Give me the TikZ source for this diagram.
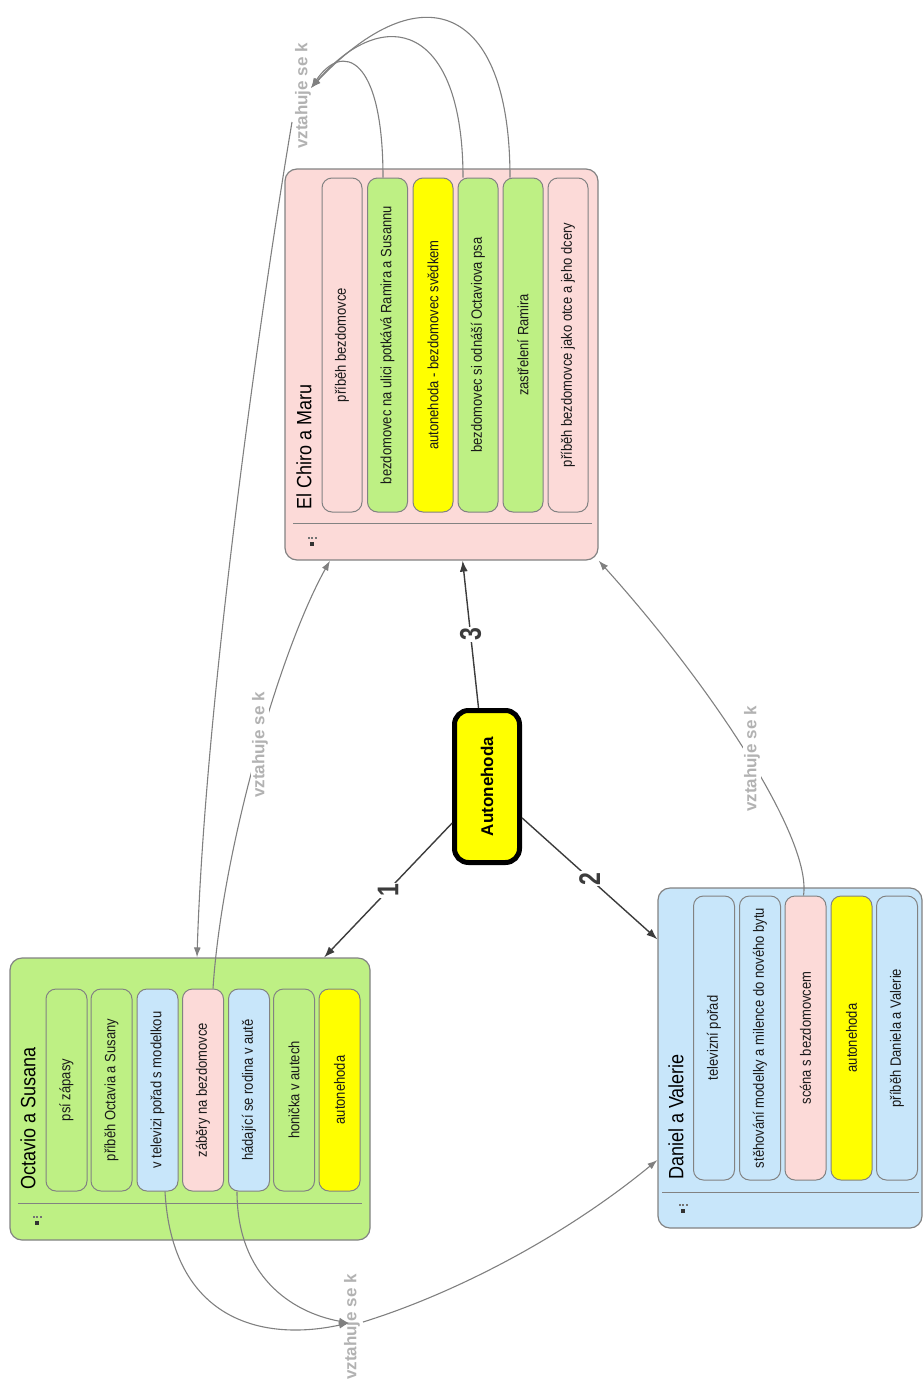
\documentclass[tikz,border=0pt]{standalone}
\usepackage{fontspec}
\usepackage{graphicx}
\setmainfont{Liberation Sans}
\usetikzlibrary{arrows.meta,calc}
\definecolor{pinkc}{RGB}{252,218,216}
\definecolor{greenc}{RGB}{190,240,132}
\definecolor{bluec}{RGB}{200,230,250}
\definecolor{yellowc}{RGB}{255,255,0}
\definecolor{edgec}{RGB}{130,130,130}
\definecolor{relc}{RGB}{128,128,128}
\definecolor{rellab}{RGB}{178,178,178}
\definecolor{mainc}{RGB}{60,60,60}
\newcommand\tallt[1]{\scalebox{1}[1.15]{#1}}
\newcommand\tallnum[1]{\scalebox{1}[1.3]{#1}}
\begin{document}
\begin{tikzpicture}[x=1pt,y=1pt,
  group/.style={draw=edgec, line width=1.2pt, rounded corners=12pt, inner sep=0pt},
  item/.style={draw=edgec, line width=1pt, rounded corners=10pt, rotate=90, inner sep=0pt,
    font=\fontsize{13}{15}\selectfont, text=black!90},
  gtitle/.style={rotate=90, anchor=west, inner sep=0pt, font=\fontsize{18}{20}\selectfont},
  sepline/.style={draw=edgec, line width=0.8pt},
  mainarrow/.style={draw=mainc, line width=1.4pt, -{Latex[length=11pt,width=8pt]}},
  numlab/.style={rotate=90, font=\bfseries\fontsize{23}{25}\selectfont, text=mainc, fill=white, inner sep=1pt},
  rel/.style={draw=relc, line width=1.1pt, -{Latex[length=10pt,width=7pt]}},
  rellabel/.style={rotate=90, font=\bfseries\fontsize{17}{19}\selectfont, text=rellab, inner sep=1pt},
  gicon/.pic={
    \fill[black!55] (-4.5,2) rectangle ++(2,2);
    \fill[black!55] (-1,2) rectangle ++(2,2);
    \fill[black!55] (2.5,2) rectangle ++(2,2);
    \fill[black!80] (-2,-1) rectangle ++(3.5,-3.5);
  }
]
\useasboundingbox (0,0) rectangle (923,-1384);

% ---------- El Chiro a Maru ----------
\node[group, fill=pinkc, minimum width=313pt, minimum height=391pt] (chiro) at (441.5,-364.5) {};
\draw[sepline] (293,-523) -- (592,-523);
\pic at (312,-541) {gicon};
\node[gtitle] (chirot) at (304,-510) {\tallt{El Chiro a Maru}};
\node[item, fill=pinkc, minimum width=334pt, minimum height=40pt] (p1) at (342,-345) {\tallt{příběh bezdomovce}};
\node[item, fill=greenc, minimum width=334pt, minimum height=40pt] (p2) at (387.5,-345) {\tallt{bezdomovec na ulici potkává Ramira a Susannu}};
\node[item, fill=yellowc, minimum width=334pt, minimum height=40pt] (p3) at (433,-345) {\tallt{autonehoda - bezdomovec svědkem}};
\node[item, fill=greenc, minimum width=334pt, minimum height=40pt] (p4) at (478,-345) {\tallt{bezdomovec si odnáší Octaviova psa}};
\node[item, fill=greenc, minimum width=334pt, minimum height=40pt] (p5) at (523,-345) {\tallt{zastřelení Ramira}};
\node[item, fill=pinkc, minimum width=334pt, minimum height=40pt] (p6) at (568,-345) {\tallt{příběh bezdomovce jako otce a jeho dcery}};

% ---------- Octavio a Susana ----------
\node[group, fill=greenc, minimum width=360pt, minimum height=282pt] (oct) at (190,-1099) {};
\draw[sepline] (18,-1203) -- (362,-1203);
\pic at (37,-1220) {gicon};
\node[gtitle] (octt) at (28,-1190) {\tallt{Octavio a Susana}};
\node[item, fill=greenc, minimum width=202pt, minimum height=41pt] (o1) at (66.5,-1090) {\tallt{psí zápasy}};
\node[item, fill=greenc, minimum width=202pt, minimum height=41pt] (o2) at (111.5,-1090) {\tallt{příběh Octavia a Susany}};
\node[item, fill=bluec, minimum width=202pt, minimum height=41pt] (o3) at (157.5,-1090) {\tallt{v televizi pořad s modelkou}};
\node[item, fill=pinkc, minimum width=202pt, minimum height=41pt] (o4) at (203,-1090) {\tallt{záběry na bezdomovce}};
\node[item, fill=bluec, minimum width=202pt, minimum height=41pt] (o5) at (249,-1090) {\tallt{hádající se rodina v autě}};
\node[item, fill=greenc, minimum width=202pt, minimum height=41pt] (o6) at (294,-1090) {\tallt{honička v autech}};
\node[item, fill=yellowc, minimum width=202pt, minimum height=41pt] (o7) at (339.5,-1090) {\tallt{autonehoda}};

% ---------- Daniel a Valerie ----------
\node[group, fill=bluec, minimum width=264pt, minimum height=340pt] (dan) at (790,-1058) {};
\draw[sepline] (662,-1192) -- (919,-1192);
\pic at (683,-1208) {gicon};
\node[gtitle] (dant) at (676,-1180) {\tallt{Daniel a Valerie}};
\node[item, fill=bluec, minimum width=284pt, minimum height=41pt] (d1) at (714,-1038) {\tallt{televizní pořad}};
\node[item, fill=bluec, minimum width=284pt, minimum height=41pt] (d2) at (760,-1038) {\tallt{stěhování modelky a milence do nového bytu}};
\node[item, fill=pinkc, minimum width=284pt, minimum height=41pt] (d3) at (805.5,-1038) {\tallt{scéna s bezdomovcem}};
\node[item, fill=yellowc, minimum width=284pt, minimum height=41pt] (d4) at (851.5,-1038) {\tallt{autonehoda}};
\node[item, fill=bluec, minimum width=284pt, minimum height=41pt] (d5) at (897,-1038) {\tallt{příběh Daniela a Valerie}};

% ---------- central node ----------
\node[draw=black, line width=5pt, fill=yellowc, rounded corners=14pt, rotate=90,
      minimum width=152pt, minimum height=65pt, inner sep=0pt,
      font=\bfseries\fontsize{17}{19}\selectfont] (auto) at (487,-786.5) {Autonehoda};

\draw[mainarrow] (auto) -- node[numlab]{\tallnum{1}} (oct);
\draw[mainarrow] (auto) -- node[numlab]{\tallnum{2}} (dan);
\draw[mainarrow] (auto) -- node[numlab]{\tallnum{3}} (chiro);

% ---------- relations ----------
\node[rellabel] (L1) at (303,-96) {vztahuje se k};
\node[rellabel] (L4) at (352,-1327) {vztahuje se k};
\coordinate (t1) at (311,-88);
\coordinate (l1o) at (292,-122);
\coordinate (t4) at (349,-1323);
\coordinate (l4o) at (363,-1322);

% top cluster
\draw[rel] ([xshift=-4.5pt]p2.east) .. controls (383,-55) and (342,-42) .. (t1);
\draw[rel] ([xshift=-15pt]p4.east) .. controls (463,-25) and (385,-2) .. (t1);
\draw[rel] ([xshift=-13pt]p5.east) .. controls (510,-2) and (420,28) .. (t1);
\draw[rel] (l1o) .. controls (262,-300) and (205,-700) .. ([xshift=7pt]oct.north);

% left middle: through label
\draw[rel] ([xshift=10pt]o4.east) .. controls (222,-850) and (280,-650) .. ([xshift=-111.5pt]chiro.south);
\node[rellabel, fill=white] (L2) at (260,-745) {vztahuje se k};

% right middle: through label
\draw[rel] ([xshift=-2pt]d3.east) .. controls (812,-840) and (715,-690) .. (chiro.south east);
\node[rellabel, fill=white] (L3) at (752,-759) {vztahuje se k};

% bottom
\draw[rel] ([xshift=7.5pt]o3.west) .. controls (172,-1320) and (262,-1342) .. (t4);
\draw[rel] ([xshift=-12pt]o5.west) .. controls (237,-1275) and (290,-1312) .. (t4);
\draw[rel] (l4o) .. controls (450,-1295) and (560,-1240) .. ([yshift=-102pt]dan.west);
\end{tikzpicture}
\end{document}
